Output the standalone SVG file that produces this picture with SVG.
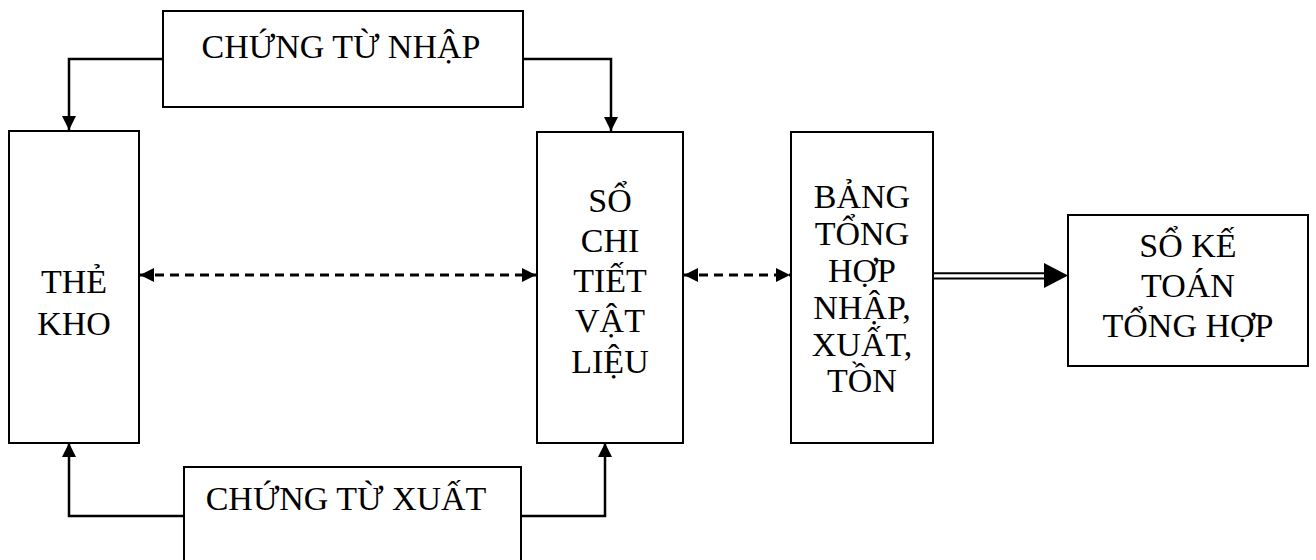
<svg xmlns="http://www.w3.org/2000/svg" width="1316" height="560" viewBox="0 0 1316 560">
<defs>
<style>
.box{fill:#fff;stroke:#000;stroke-width:2}
.t{font-family:"Liberation Serif","Times New Roman",serif;font-size:34px;fill:#000;text-anchor:middle}
.c{fill:none;stroke:#000;stroke-width:2.5}
.d{fill:none;stroke:#000;stroke-width:3;stroke-dasharray:9 6}
</style>
<marker id="ah" viewBox="0 0 14 14" refX="14" refY="7" markerWidth="14" markerHeight="14" markerUnits="userSpaceOnUse" orient="auto-start-reverse">
<path d="M0,0 L14,7 L0,14 Z" fill="#000"/>
</marker>
<marker id="bh" viewBox="0 0 24 24" refX="24" refY="12" markerWidth="24" markerHeight="24" markerUnits="userSpaceOnUse" orient="auto">
<path d="M0,0 L24,12 L0,24 Z" fill="#000"/>
</marker>
</defs>
<g id="connectors">
<polyline class="c" points="164,59 69,59 69,130" marker-end="url(#ah)"/>
<polyline class="c" points="522,59 611,59 611,131" marker-end="url(#ah)"/>
<polyline class="c" points="185,516 69,516 69,443" marker-end="url(#ah)"/>
<polyline class="c" points="517,516 605,516 605,443" marker-end="url(#ah)"/>
<line class="d" x1="140" y1="275" x2="536" y2="275" marker-start="url(#ah)" marker-end="url(#ah)"/>
<line class="d" x1="684" y1="275" x2="790" y2="275" marker-start="url(#ah)" marker-end="url(#ah)"/>
<line x1="934" y1="273.2" x2="1046" y2="273.2" stroke="#000" stroke-width="2"/>
<line x1="934" y1="278.4" x2="1046" y2="278.4" stroke="#000" stroke-width="2"/>
<path d="M1044,263 L1068,275.5 L1044,288 Z" fill="#000"/>
</g>
<g id="chung-tu-nhap">
<rect class="box" x="163" y="11" width="360" height="96"/>
<text class="t" x="341" y="58">CHỨNG TỪ NHẬP</text>
</g>
<g id="the-kho">
<rect class="box" x="9" y="131" width="130" height="312"/>
<text class="t" x="74" y="293">THẺ</text>
<text class="t" x="74" y="335">KHO</text>
</g>
<g id="so-chi-tiet">
<rect class="box" x="537" y="132" width="146" height="311"/>
<text class="t" x="610" y="212">SỔ</text>
<text class="t" x="610" y="252">CHI</text>
<text class="t" x="610" y="292">TIẾT</text>
<text class="t" x="610" y="332">VẬT</text>
<text class="t" x="610" y="373">LIỆU</text>
</g>
<g id="bang-tong-hop">
<rect class="box" x="791" y="132" width="142" height="311"/>
<text class="t" x="862" y="208">BẢNG</text>
<text class="t" x="862" y="245">TỔNG</text>
<text class="t" x="862" y="282">HỢP</text>
<text class="t" x="862" y="319">NHẬP,</text>
<text class="t" x="862" y="356">XUẤT,</text>
<text class="t" x="862" y="392">TỒN</text>
</g>
<g id="so-ke-toan">
<rect class="box" x="1068" y="215" width="240" height="151"/>
<text class="t" x="1188" y="257">SỔ KẾ</text>
<text class="t" x="1188" y="297">TOÁN</text>
<text class="t" x="1188" y="337">TỔNG HỢP</text>
</g>
<g id="chung-tu-xuat">
<rect class="box" x="184" y="467" width="337" height="120"/>
<text class="t" x="346" y="510">CHỨNG TỪ XUẤT</text>
</g>
</svg>
